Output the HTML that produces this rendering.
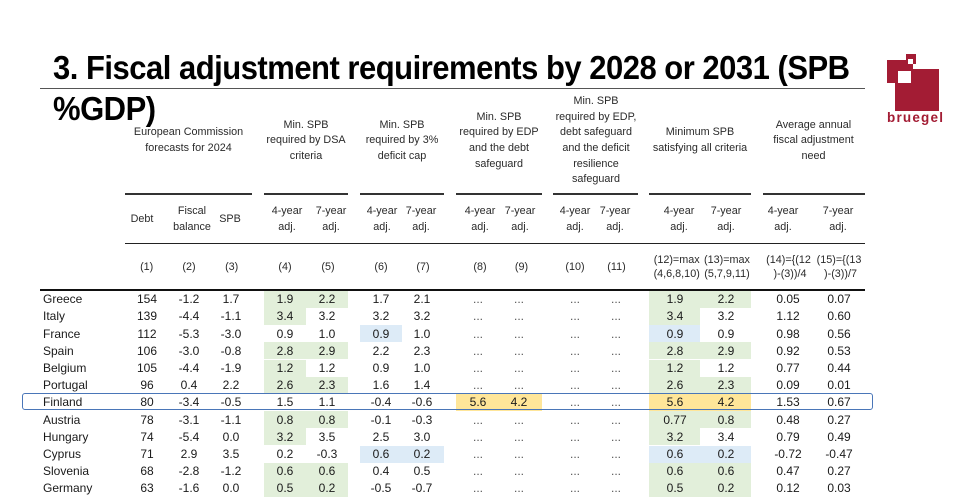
<!DOCTYPE html>
<html><head><meta charset="utf-8"><style>
html,body{margin:0;padding:0;background:#fff;}
body{width:965px;height:493px;overflow:hidden;position:relative;font-family:"Liberation Sans",Arial,sans-serif;color:#1a1a1a;}
.ttl{position:absolute;left:53px;font-weight:bold;font-size:31px;line-height:31px;letter-spacing:-0.5px;color:#000;white-space:nowrap;transform:scaleY(1.08);transform-origin:0 26.3px;}
.ln{position:absolute;}
.hc{position:absolute;width:90px;text-align:center;font-size:10.8px;line-height:15.6px;color:#2a2a2a;white-space:nowrap;}
.hn{position:absolute;width:90px;text-align:center;font-size:10.8px;line-height:14px;color:#2a2a2a;white-space:nowrap;}
.r{position:absolute;left:0;width:965px;height:17.2px;line-height:17.2px;font-size:12px;}
.r span{position:absolute;top:0.6px;width:50px;text-align:center;white-space:nowrap;}
.r span.n{left:43px;width:auto;text-align:left;}
.r i{position:absolute;top:0;height:17.2px;}
.G{background:#E2EFDA}.B{background:#DDEBF7}.Y{background:#FFE699}
.x4{left:264px;width:42px}.x5{left:306px;width:42px}.x6{left:360px;width:42px}.x7{left:402px;width:42px}
.x8{left:456px;width:43px}.x9{left:499px;width:43px}.x12{left:649px;width:51px}.x13{left:700px;width:51px}
.a{left:122px}.b{left:164px}.c{left:206px}.d{left:260px}.e{left:302px}.f{left:356px}.g{left:397px}
.h{left:453px}.k1{left:494px}.j{left:550px}.k{left:591px}.l{left:650px}.m{left:701px}.o{left:763px}.p{left:814px}
.t{color:#555;}
</style></head><body>

<div class="ttl" style="top:52.7px;">3. Fiscal adjustment requirements by 2028 or 2031 (SPB</div>
<div class="ln" style="left:40px;top:88px;width:825px;height:1px;background:#555;"></div>
<div class="ttl" style="top:93.7px;">%GDP)</div>

<!-- logo -->
<div class="ln" style="left:887px;top:60px;width:26px;height:23px;background:#A31C34;"></div>
<div class="ln" style="left:895px;top:69px;width:44px;height:42px;background:#A31C34;"></div>
<div class="ln" style="left:898px;top:71px;width:13px;height:12px;background:#fff;"></div>
<div class="ln" style="left:906px;top:54px;width:10px;height:10px;background:#A31C34;"></div>
<div class="ln" style="left:907.5px;top:59px;width:5px;height:5px;background:#fff;"></div>
<div style="position:absolute;left:887px;top:111px;font-size:13.5px;line-height:14px;font-weight:bold;letter-spacing:1.2px;color:#A31C34;white-space:nowrap;">bruegel</div>

<!-- group headers -->
<div class="hc" style="left:123.5px;width:130px;top:125.4px;">European Commission<br>forecasts for 2024</div>
<div class="hc" style="left:261px;top:117.6px;">Min. SPB<br>required by DSA<br>criteria</div>
<div class="hc" style="left:357px;top:117.6px;">Min. SPB<br>required by 3%<br>deficit cap</div>
<div class="hc" style="left:454px;top:109.8px;">Min. SPB<br>required by EDP<br>and the debt<br>safeguard</div>
<div class="hc" style="left:551px;top:94.2px;">Min. SPB<br>required by EDP,<br>debt safeguard<br>and the deficit<br>resilience<br>safeguard</div>
<div class="hc" style="left:635px;width:130px;top:125.4px;">Minimum SPB<br>satisfying all criteria</div>
<div class="hc" style="left:753.5px;width:120px;top:117.6px;">Average annual<br>fiscal adjustment<br>need</div>

<!-- group underlines -->
<div class="ln" style="left:125px;top:193px;width:127px;height:1.5px;background:#333;"></div>
<div class="ln" style="left:264px;top:193px;width:84px;height:1.5px;background:#333;"></div>
<div class="ln" style="left:360px;top:193px;width:84px;height:1.5px;background:#333;"></div>
<div class="ln" style="left:456px;top:193px;width:86px;height:1.5px;background:#333;"></div>
<div class="ln" style="left:553px;top:193px;width:85px;height:1.5px;background:#333;"></div>
<div class="ln" style="left:649px;top:193px;width:102px;height:1.5px;background:#333;"></div>
<div class="ln" style="left:763px;top:193px;width:102px;height:1.5px;background:#333;"></div>

<!-- column headers -->
<div class="hc" style="left:97px;top:212.2px;">Debt</div>
<div class="hc" style="left:147px;top:204.4px;">Fiscal<br>balance</div>
<div class="hc" style="left:185px;top:212.2px;">SPB</div>
<div class="hc" style="left:242px;top:204.4px;">4-year<br>adj.</div>
<div class="hc" style="left:286px;top:204.4px;">7-year<br>adj.</div>
<div class="hc" style="left:337px;top:204.4px;">4-year<br>adj.</div>
<div class="hc" style="left:376px;top:204.4px;">7-year<br>adj.</div>
<div class="hc" style="left:435px;top:204.4px;">4-year<br>adj.</div>
<div class="hc" style="left:475px;top:204.4px;">7-year<br>adj.</div>
<div class="hc" style="left:530px;top:204.4px;">4-year<br>adj.</div>
<div class="hc" style="left:570px;top:204.4px;">7-year<br>adj.</div>
<div class="hc" style="left:634px;top:204.4px;">4-year<br>adj.</div>
<div class="hc" style="left:681px;top:204.4px;">7-year<br>adj.</div>
<div class="hc" style="left:738px;top:204.4px;">4-year<br>adj.</div>
<div class="hc" style="left:793px;top:204.4px;">7-year<br>adj.</div>

<div class="ln" style="left:125px;top:242.5px;width:740px;height:1.5px;background:#222;"></div>

<!-- numbering row -->
<div class="hc" style="left:101.7px;top:260.2px;">(1)</div>
<div class="hc" style="left:144px;top:260.2px;">(2)</div>
<div class="hc" style="left:186.7px;top:260.2px;">(3)</div>
<div class="hc" style="left:240px;top:260.2px;">(4)</div>
<div class="hc" style="left:283px;top:260.2px;">(5)</div>
<div class="hc" style="left:336px;top:260.2px;">(6)</div>
<div class="hc" style="left:378px;top:260.2px;">(7)</div>
<div class="hc" style="left:435px;top:260.2px;">(8)</div>
<div class="hc" style="left:476.5px;top:260.2px;">(9)</div>
<div class="hc" style="left:530px;top:260.2px;">(10)</div>
<div class="hc" style="left:571.5px;top:260.2px;">(11)</div>
<div class="hn" style="left:631.7px;top:253px;">(12)=max<br>(4,6,8,10)</div>
<div class="hn" style="left:682px;top:253px;">(13)=max<br>(5,7,9,11)</div>
<div class="hn" style="left:743.5px;top:253px;">(14)={(12<br>&nbsp;)-(3))/4</div>
<div class="hn" style="left:794px;top:253px;">(15)={(13<br>&nbsp;)-(3))/7</div>

<div class="ln" style="left:40px;top:289px;width:825px;height:2px;background:#111;"></div>

<!-- data rows -->
<div class="r" style="top:290.7px"><i class="G x4"></i><i class="G x5"></i><i class="G x12"></i><i class="G x13"></i><span class="n">Greece</span><span class="a">154</span><span class="b">-1.2</span><span class="c">1.7</span><span class="d">1.9</span><span class="e">2.2</span><span class="f">1.7</span><span class="g">2.1</span><span class="h t">...</span><span class="k1 t">...</span><span class="j t">...</span><span class="k t">...</span><span class="l">1.9</span><span class="m">2.2</span><span class="o">0.05</span><span class="p">0.07</span></div>

<div class="r" style="top:307.9px"><i class="G x4"></i><i class="G x12"></i><span class="n">Italy</span><span class="a">139</span><span class="b">-4.4</span><span class="c">-1.1</span><span class="d">3.4</span><span class="e">3.2</span><span class="f">3.2</span><span class="g">3.2</span><span class="h t">...</span><span class="k1 t">...</span><span class="j t">...</span><span class="k t">...</span><span class="l">3.4</span><span class="m">3.2</span><span class="o">1.12</span><span class="p">0.60</span></div>

<div class="r" style="top:325.1px"><i class="B x6"></i><i class="B x12"></i><span class="n">France</span><span class="a">112</span><span class="b">-5.3</span><span class="c">-3.0</span><span class="d">0.9</span><span class="e">1.0</span><span class="f">0.9</span><span class="g">1.0</span><span class="h t">...</span><span class="k1 t">...</span><span class="j t">...</span><span class="k t">...</span><span class="l">0.9</span><span class="m">0.9</span><span class="o">0.98</span><span class="p">0.56</span></div>

<div class="r" style="top:342.3px"><i class="G x4"></i><i class="G x5"></i><i class="G x12"></i><i class="G x13"></i><span class="n">Spain</span><span class="a">106</span><span class="b">-3.0</span><span class="c">-0.8</span><span class="d">2.8</span><span class="e">2.9</span><span class="f">2.2</span><span class="g">2.3</span><span class="h t">...</span><span class="k1 t">...</span><span class="j t">...</span><span class="k t">...</span><span class="l">2.8</span><span class="m">2.9</span><span class="o">0.92</span><span class="p">0.53</span></div>

<div class="r" style="top:359.5px"><i class="G x4"></i><i class="G x12"></i><span class="n">Belgium</span><span class="a">105</span><span class="b">-4.4</span><span class="c">-1.9</span><span class="d">1.2</span><span class="e">1.2</span><span class="f">0.9</span><span class="g">1.0</span><span class="h t">...</span><span class="k1 t">...</span><span class="j t">...</span><span class="k t">...</span><span class="l">1.2</span><span class="m">1.2</span><span class="o">0.77</span><span class="p">0.44</span></div>

<div class="r" style="top:376.7px"><i class="G x4"></i><i class="G x5"></i><i class="G x12"></i><i class="G x13"></i><span class="n">Portugal</span><span class="a">96</span><span class="b">0.4</span><span class="c">2.2</span><span class="d">2.6</span><span class="e">2.3</span><span class="f">1.6</span><span class="g">1.4</span><span class="h t">...</span><span class="k1 t">...</span><span class="j t">...</span><span class="k t">...</span><span class="l">2.6</span><span class="m">2.3</span><span class="o">0.09</span><span class="p">0.01</span></div>

<div class="r" style="top:393.9px"><i class="Y x8"></i><i class="Y x9"></i><i class="Y x12"></i><i class="Y x13"></i><span class="n">Finland</span><span class="a">80</span><span class="b">-3.4</span><span class="c">-0.5</span><span class="d">1.5</span><span class="e">1.1</span><span class="f">-0.4</span><span class="g">-0.6</span><span class="h">5.6</span><span class="k1">4.2</span><span class="j t">...</span><span class="k t">...</span><span class="l">5.6</span><span class="m">4.2</span><span class="o">1.53</span><span class="p">0.67</span></div>

<div class="r" style="top:411.1px"><i class="G x4"></i><i class="G x5"></i><i class="G x12"></i><i class="G x13"></i><span class="n">Austria</span><span class="a">78</span><span class="b">-3.1</span><span class="c">-1.1</span><span class="d">0.8</span><span class="e">0.8</span><span class="f">-0.1</span><span class="g">-0.3</span><span class="h t">...</span><span class="k1 t">...</span><span class="j t">...</span><span class="k t">...</span><span class="l">0.77</span><span class="m">0.8</span><span class="o">0.48</span><span class="p">0.27</span></div>

<div class="r" style="top:428.3px"><i class="G x4"></i><i class="G x12"></i><span class="n">Hungary</span><span class="a">74</span><span class="b">-5.4</span><span class="c">0.0</span><span class="d">3.2</span><span class="e">3.5</span><span class="f">2.5</span><span class="g">3.0</span><span class="h t">...</span><span class="k1 t">...</span><span class="j t">...</span><span class="k t">...</span><span class="l">3.2</span><span class="m">3.4</span><span class="o">0.79</span><span class="p">0.49</span></div>

<div class="r" style="top:445.5px"><i class="B x6"></i><i class="B x7"></i><i class="B x12"></i><i class="B x13"></i><span class="n">Cyprus</span><span class="a">71</span><span class="b">2.9</span><span class="c">3.5</span><span class="d">0.2</span><span class="e">-0.3</span><span class="f">0.6</span><span class="g">0.2</span><span class="h t">...</span><span class="k1 t">...</span><span class="j t">...</span><span class="k t">...</span><span class="l">0.6</span><span class="m">0.2</span><span class="o">-0.72</span><span class="p">-0.47</span></div>

<div class="r" style="top:462.7px"><i class="G x4"></i><i class="G x5"></i><i class="G x12"></i><i class="G x13"></i><span class="n">Slovenia</span><span class="a">68</span><span class="b">-2.8</span><span class="c">-1.2</span><span class="d">0.6</span><span class="e">0.6</span><span class="f">0.4</span><span class="g">0.5</span><span class="h t">...</span><span class="k1 t">...</span><span class="j t">...</span><span class="k t">...</span><span class="l">0.6</span><span class="m">0.6</span><span class="o">0.47</span><span class="p">0.27</span></div>

<div class="r" style="top:479.9px"><i class="G x4"></i><i class="G x5"></i><i class="G x12"></i><i class="G x13"></i><span class="n">Germany</span><span class="a">63</span><span class="b">-1.6</span><span class="c">0.0</span><span class="d">0.5</span><span class="e">0.2</span><span class="f">-0.5</span><span class="g">-0.7</span><span class="h t">...</span><span class="k1 t">...</span><span class="j t">...</span><span class="k t">...</span><span class="l">0.5</span><span class="m">0.2</span><span class="o">0.12</span><span class="p">0.03</span></div>

<!-- Finland outline -->
<div class="ln" style="left:22px;top:393px;width:851px;height:16.5px;box-sizing:border-box;border:1.5px solid #4A76B8;border-radius:3px;"></div>

</body></html>
